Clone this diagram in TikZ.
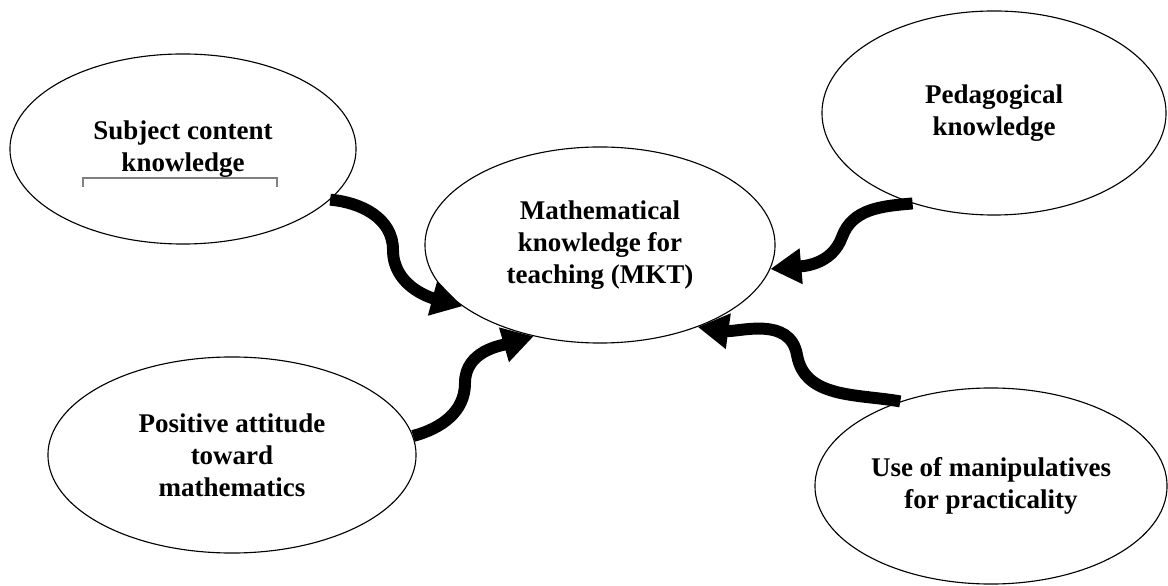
\documentclass[tikz,border=0pt]{standalone}
\usepackage{fontspec}
\setmainfont{Liberation Serif}
\usetikzlibrary{shapes.geometric, arrows.meta}

\begin{document}
\begin{tikzpicture}[x=0.025cm, y=0.025cm,
	idea/.style={ellipse, draw, line width=0.8pt, inner sep=0pt, align=center,
		font=\bfseries\fontsize{19.2}{22.8}\selectfont},
	link/.style={line width=8.5pt, -{Triangle[length=22pt, width=24pt]}}]
	\useasboundingbox (0, 0) rectangle (1168, 585);

	\node [idea, minimum width=8.65cm, minimum height=4.75cm] (sck) at (183, 436) {Subject content\\knowledge};
	\node [idea, minimum width=8.6cm, minimum height=5.1cm] (ped) at (994, 472) {Pedagogical\\knowledge};
	\node [idea, minimum width=8.75cm, minimum height=4.9cm] (mkt) at (600, 340) {Mathematical\\knowledge for\\teaching (MKT)};
	\node [idea, minimum width=9.2cm, minimum height=4.9cm] (pat) at (232, 130) {Positive attitude\\toward\\mathematics};
	\node [idea, minimum width=8.8cm, minimum height=4.9cm] (man) at (991, 99) {Use of manipulatives\\for practicality};

	\draw [gray, line width=0.8pt] (83, 398) |- (277, 407) -- (277, 398);

	\coordinate (bend1) at (393, 335);
	\coordinate (bend2) at (465, 202);
	\coordinate (bend3) at (842, 348);
	\coordinate (bend4) at (797, 230);

	\draw [link] (sck.-19) to [out=-5, in=90] (bend1) to [out=-90, in=165] (mkt.204);
	\draw [link] (pat.6) to [out=15, in=-90] (bend2) to [out=90, in=196] (mkt.234);
	\draw [link] (ped.228) to [out=185, in=70] (bend3) to [out=-110, in=5] (mkt.-8);
	\draw [link] (man.137) to [out=170, in=-80] (bend4) to [out=100, in=-8] (mkt.-40);
\end{tikzpicture}
\end{document}
